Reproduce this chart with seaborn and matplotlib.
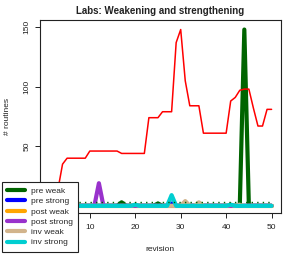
import numpy as np
import pandas as pd
import matplotlib
matplotlib.use("Agg")
import matplotlib.pyplot as plt
from matplotlib.lines import Line2D
import seaborn as sns

# revisions 1..50
revision = list(range(1, 51))

# total routines (red line, no legend entry)
total = [10, 10, 14, 35, 40, 40, 40, 40, 40, 46,
         46, 46, 46, 46, 46, 46, 44, 44, 44, 44,
         44, 44, 74, 74, 74, 79, 79, 79, 137, 148,
         105, 84, 84, 84, 61, 61, 61, 61, 61, 61,
         88, 91, 97, 98, 98, 82, 67, 67, 81, 81]

pre_weak = [0] * 50
pre_weak[16] = 3
pre_weak[24] = 2
pre_weak[43] = 148

pre_strong = [0] * 50
pre_strong[27] = 2

post_weak = [0] * 50

post_strong = [0] * 50
post_strong[11] = 19

inv_weak = [0] * 50
inv_weak[19] = 1
inv_weak[30] = 4
inv_weak[33] = 3
inv_weak[40] = 1
inv_weak[42] = 1

inv_strong = [0] * 50
inv_strong[19] = 1
inv_strong[27] = 9
inv_strong[40] = 1

labels = ["pre weak", "pre strong", "post weak", "post strong", "inv weak", "inv strong"]
series = [pre_weak, pre_strong, post_weak, post_strong, inv_weak, inv_strong]
colors = ["#006400", "#0000FF", "#FFA500", "#9932CC", "#D2B48C", "#00CED1"]

sns.set_style("white")
plt.rcParams["font.family"] = ["Liberation Sans", "DejaVu Sans"]

fig = plt.figure(figsize=(2.94, 2.54), dpi=100)
ax = fig.add_axes([40 / 294, 41 / 254, 240.5 / 294, 193 / 254])

for lab, vals, col in zip(labels, series, colors):
    df = pd.DataFrame({"revision": revision, "n": vals})
    sns.lineplot(data=df, x="revision", y="n", ax=ax, color=col, linewidth=3)

# mean of pre weak as dotted line
ax.axhline(np.mean(pre_weak), color="#006400", linestyle=(0, (1, 3)), linewidth=1,
           xmin=0.0, xmax=0.96)

df_tot = pd.DataFrame({"revision": revision, "n": total})
sns.lineplot(data=df_tot, x="revision", y="n", ax=ax, color="red", linewidth=1.1)

ax.set_xlim(-0.96, 51.96)
ax.set_ylim(-6, 156)
ax.set_xticks([10, 20, 30, 40, 50])
ax.set_yticks([50, 100, 150])

for s in ax.spines.values():
    s.set_color("#222222")
    s.set_linewidth(0.8)

ax.tick_params(axis="both", direction="out", length=3.6, width=0.7, color="#222222",
               labelsize=6, labelcolor="#222222", bottom=True, left=True)
ax.tick_params(axis="x", pad=4)
ax.tick_params(axis="y", pad=3)
for t in ax.get_yticklabels():
    t.set_rotation(90)
    t.set_va("center")

ax.set_xlabel("revision", fontsize=6, color="#222222", labelpad=11)
ax.set_ylabel("# routines", fontsize=6, color="#222222", labelpad=9)
ax.set_title("Labs: Weakening and strengthening", fontsize=7, fontweight="bold",
             color="#222222", pad=4)

handles = [Line2D([0], [0], color=c, linewidth=3) for c in colors]
leg = fig.legend(handles, labels, loc="lower left",
                 bbox_to_anchor=(2 / 294, 2.5 / 254), bbox_transform=fig.transFigure,
                 fontsize=6, frameon=True, fancybox=False, framealpha=1,
                 edgecolor="#222222", handlelength=2.1, handletextpad=0.8,
                 labelspacing=0.3, borderpad=0.6, borderaxespad=0)
leg.get_frame().set_linewidth(0.8)

fig.savefig("out.png", dpi=100)
